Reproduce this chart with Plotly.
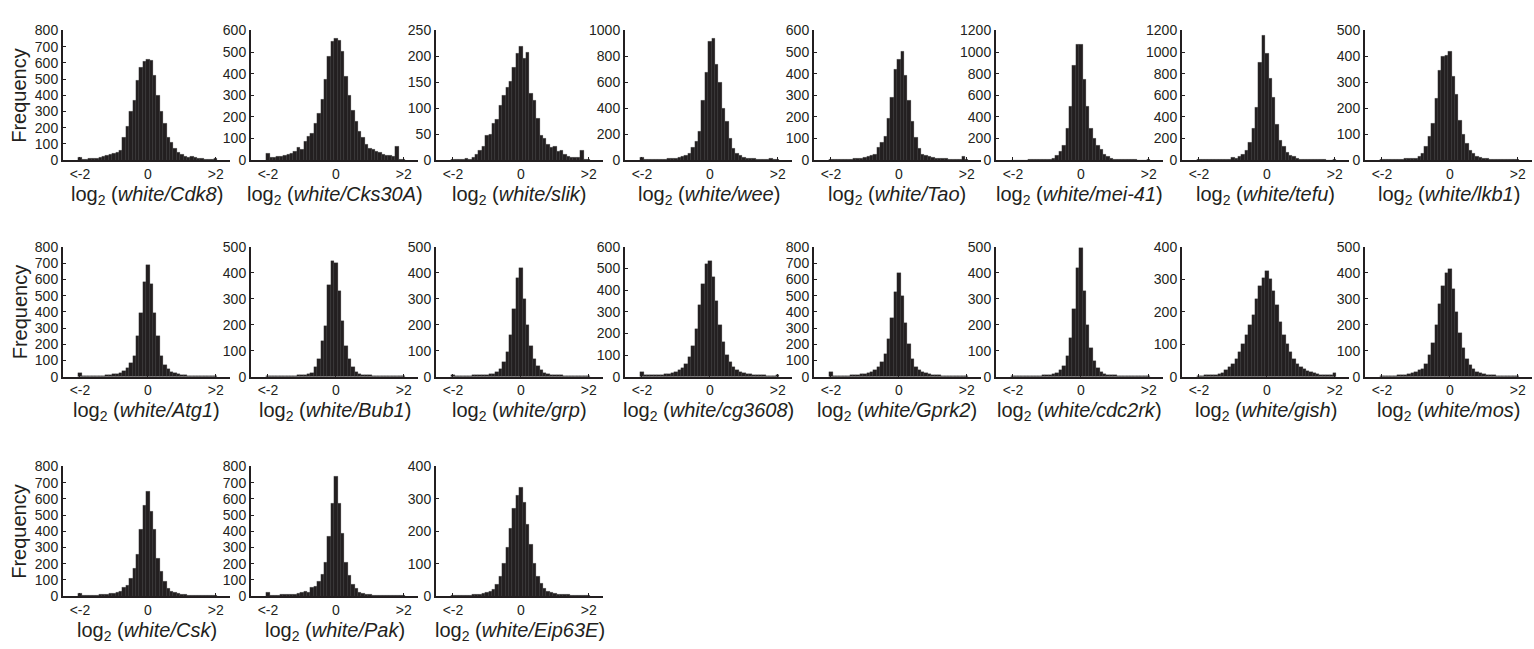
import plotly.graph_objects as go

W, H = 1534, 649

# bin centres of the histograms (log2 ratio), -2.0 ... 2.0 step 0.1
bin_centers = [round(-2.0 + 0.1 * i, 1) for i in range(41)]
tick_vals = [-2, 0, 2]
tick_text = ["<-2", "0", ">2"]

# ---------------- counts per knockdown (41 bins each) ----------------
cdk8 = [18, 5, 6, 8, 10, 12, 15, 22, 32, 38,
        42, 48, 60, 140, 210, 300, 370, 490, 570, 610,
        620, 615, 520, 400, 300, 225, 140, 110, 70, 50,
        35, 25, 18, 20, 14, 10, 8, 6, 5, 4, 8]
cks30a = [30, 12, 14, 16, 18, 20, 25, 30, 42, 57,
          50, 87, 110, 125, 170, 215, 283, 374, 480, 547,
          562, 555, 502, 389, 299, 231, 178, 133, 103, 72,
          54, 50, 42, 35, 28, 24, 20, 15, 65, 5, 3]
slik = [2, 1, 2, 2, 3, 2, 5, 11, 18, 27,
        48, 49, 70, 79, 105, 124, 140, 151, 179, 206,
        220, 197, 208, 128, 115, 80, 48, 41, 30, 24,
        27, 16, 18, 11, 8, 5, 5, 6, 19, 1, 1]
wee = [22, 5, 5, 6, 7, 8, 8, 9, 10, 12,
       15, 20, 25, 33, 50, 95, 146, 221, 460, 673,
       912, 937, 736, 598, 397, 296, 171, 90, 50, 33,
       20, 15, 12, 10, 8, 7, 6, 5, 15, 3, 3]
tao = [3, 3, 3, 4, 4, 5, 5, 6, 8, 10,
       12, 15, 20, 25, 60, 80, 112, 195, 292, 420,
       465, 502, 390, 277, 180, 105, 52, 25, 20, 15,
       12, 10, 8, 7, 6, 5, 5, 4, 5, 15, 2]
mei41 = [2, 2, 2, 2, 2, 3, 3, 4, 4, 5,
         6, 9, 20, 45, 80, 134, 289, 497, 878, 1070,
         1072, 744, 497, 289, 199, 134, 98, 51, 30, 20,
         9, 8, 6, 5, 4, 3, 3, 2, 2, 2, 3]
tefu = [3, 3, 3, 3, 3, 4, 4, 5, 6, 10,
        25, 15, 30, 51, 90, 164, 290, 489, 901, 1152,
        991, 752, 579, 328, 185, 125, 72, 48, 30, 15,
        10, 6, 5, 4, 4, 3, 3, 3, 2, 2, 3]
lkb1 = [3, 3, 3, 3, 3, 3, 4, 5, 6, 7,
        8, 15, 27, 52, 91, 140, 238, 347, 400, 403,
        418, 322, 255, 155, 100, 66, 39, 25, 15, 11,
        7, 5, 4, 3, 3, 3, 3, 2, 2, 2, 4]
atg1 = [22, 4, 4, 5, 5, 6, 6, 7, 8, 10,
        14, 18, 25, 35, 55, 85, 130, 250, 390, 585,
        690, 570, 390, 250, 130, 75, 45, 30, 20, 14,
        10, 8, 6, 5, 4, 4, 3, 3, 3, 3, 4]
bub1 = [3, 2, 2, 2, 2, 3, 3, 3, 4, 5,
        6, 8, 10, 15, 37, 69, 137, 194, 352, 447,
        437, 331, 216, 119, 69, 37, 20, 12, 8, 6,
        5, 4, 3, 3, 2, 2, 2, 2, 2, 2, 3]
grp = [8, 3, 3, 3, 4, 4, 5, 5, 6, 7,
       8, 10, 12, 18, 30, 55, 95, 160, 260, 380,
       420, 300, 200, 120, 70, 40, 25, 15, 10, 8,
       6, 5, 5, 4, 4, 3, 3, 3, 3, 3, 4]
cg3608 = [20, 6, 6, 7, 8, 9, 10, 12, 14, 18,
          22, 30, 40, 60, 90, 140, 220, 330, 430, 520,
          535, 460, 350, 240, 160, 100, 70, 45, 30, 22,
          18, 14, 12, 10, 8, 7, 6, 5, 5, 4, 6]
gprk2 = [28, 5, 5, 6, 6, 7, 8, 10, 12, 15,
         18, 22, 30, 40, 60, 90, 140, 230, 360, 520,
         640, 500, 330, 200, 110, 60, 40, 28, 20, 15,
         12, 10, 8, 6, 5, 5, 4, 4, 3, 3, 5]
cdc2rk = [4, 2, 2, 2, 3, 3, 3, 4, 4, 5,
          6, 8, 10, 15, 25, 40, 80, 150, 260, 420,
          495, 330, 200, 110, 60, 35, 20, 12, 8, 6,
          5, 4, 3, 3, 3, 2, 2, 2, 2, 2, 3]
gish = [3, 3, 4, 4, 5, 6, 8, 12, 20, 30,
        40, 55, 75, 100, 130, 160, 190, 240, 280, 305,
        325, 300, 265, 220, 170, 130, 100, 75, 55, 40,
        30, 25, 18, 14, 10, 8, 6, 5, 5, 4, 10]
mos = [3, 3, 3, 4, 4, 5, 6, 8, 10, 14,
       18, 25, 30, 50, 85, 130, 200, 280, 350, 400,
       415, 340, 250, 170, 110, 70, 45, 30, 20, 14,
       10, 8, 6, 5, 4, 4, 3, 3, 3, 3, 4]
csk = [14, 6, 6, 6, 7, 7, 8, 10, 12, 15,
       18, 20, 30, 56, 64, 110, 170, 260, 410, 560,
       645, 520, 410, 230, 150, 90, 50, 30, 20, 15,
       10, 8, 6, 5, 5, 4, 4, 3, 3, 3, 4]
pak = [24, 6, 6, 7, 8, 8, 10, 10, 12, 15,
       20, 30, 26, 54, 60, 90, 134, 210, 370, 574,
       740, 574, 386, 210, 130, 70, 50, 20, 16, 10,
       8, 7, 6, 5, 5, 4, 4, 3, 3, 3, 5]
eip63e = [2, 2, 2, 3, 3, 3, 4, 5, 6, 8,
          10, 14, 20, 35, 60, 100, 150, 210, 270, 310,
          335, 290, 220, 160, 100, 60, 40, 25, 16, 10,
          8, 6, 5, 4, 4, 3, 3, 3, 2, 2, 3]

genes = ["Cdk8", "Cks30A", "slik", "wee", "Tao", "mei-41", "tefu", "lkb1",
         "Atg1", "Bub1", "grp", "cg3608", "Gprk2", "cdc2rk", "gish", "mos",
         "Csk", "Pak", "Eip63E"]
counts = [cdk8, cks30a, slik, wee, tao, mei41, tefu, lkb1,
          atg1, bub1, grp, cg3608, gprk2, cdc2rk, gish, mos,
          csk, pak, eip63e]
y_max = [800, 600, 250, 1000, 600, 1200, 1200, 500,
         800, 500, 500, 600, 800, 500, 400, 500,
         800, 800, 400]
y_step = [100, 100, 50, 200, 100, 200, 200, 100,
          100, 100, 100, 100, 100, 100, 100, 100,
          100, 100, 100]

for c in counts:
    assert len(c) == len(bin_centers)

# ---------------- layout geometry (pixels) ----------------
col_left = [63, 251, 436, 625, 814, 996, 1182, 1365]
panel_w = 167
row_top = [23, 245, 470]
row_base = [156, 378, 603]
x_range = [-2.5, 2.42]

FONT = "Liberation Sans, Arial, sans-serif"
INK = "#231f20"

fig = go.Figure()
layout = dict(
    width=W, height=H,
    margin=dict(l=0, r=0, t=0, b=0),
    paper_bgcolor="white", plot_bgcolor="white",
    showlegend=False, bargap=0,
    font=dict(family=FONT, color=INK, size=14),
)
annotations = []

for i, (g, vals) in enumerate(zip(genes, counts)):
    r, c = divmod(i, 8)
    n = "" if i == 0 else str(i + 1)
    x0 = col_left[c] / W
    x1 = (col_left[c] + panel_w) / W
    y0 = 1 - row_base[r] / H
    y1 = 1 - row_top[r] / H
    fig.add_trace(go.Bar(
        x=bin_centers, y=vals, width=0.1,
        marker=dict(color=INK, line=dict(color="#3c3c3c", width=0.25)),
        xaxis="x" + n, yaxis="y" + n, hoverinfo="x+y",
    ))
    layout["xaxis" + n] = dict(
        domain=[x0, x1], anchor="y" + n, range=x_range,
        showgrid=False, zeroline=False, showline=True,
        linecolor=INK, linewidth=2,
        tickmode="array", tickvals=tick_vals, ticktext=tick_text,
        ticks="inside", ticklen=3, tickwidth=1, tickcolor=INK,
        tickfont=dict(size=14, family=FONT, color=INK),
    )
    layout["yaxis" + n] = dict(
        domain=[y0, y1], anchor="x" + n, range=[0, y_max[i]],
        dtick=y_step[i], tick0=0,
        showgrid=False, zeroline=False, showline=True,
        linecolor=INK, linewidth=2,
        ticks="inside", ticklen=3, tickwidth=1, tickcolor=INK,
        tickfont=dict(size=14, family=FONT, color=INK),
    )
    # x-axis title below each panel
    annotations.append(dict(
        x=(col_left[c] + panel_w / 2) / W, y=1 - (row_base[r] + 36) / H,
        xref="paper", yref="paper", xanchor="center", yanchor="middle",
        text="log<sub>2</sub> (<i>white/%s</i>)" % g, showarrow=False,
        font=dict(size=20, family=FONT, color=INK),
    ))

for r in range(3):
    annotations.append(dict(
        x=19.5 / W, y=1 - (row_top[r] + row_base[r]) / 2 / H,
        xref="paper", yref="paper", xanchor="center", yanchor="middle",
        text="Frequency", textangle=-90, showarrow=False,
        font=dict(size=20, family=FONT, color=INK),
    ))

layout["annotations"] = annotations
fig.update_layout(**layout)
fig.write_html("out.html")
